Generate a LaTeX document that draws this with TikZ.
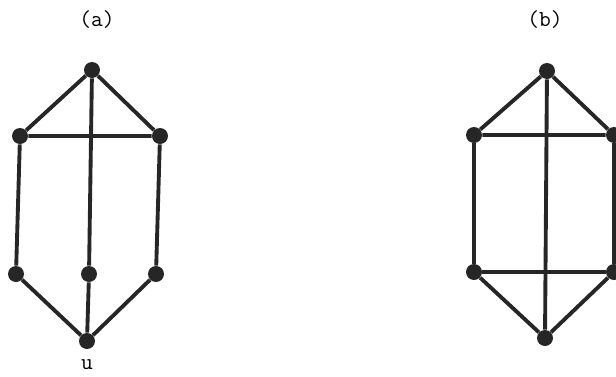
\documentclass[tikz,border=0pt]{standalone}
\begin{document}
\begin{tikzpicture}[x=0.02cm, y=-0.02cm,
    vertex/.style={circle, fill=black!85, inner sep=0pt, minimum size=0.32cm},
    edge/.style={line width=2.2pt, black!85},
    lbl/.style={font=\fontsize{13}{15}\selectfont\ttfamily}]
  \useasboundingbox (0,0) rectangle (616,376);
  \clip (0,0) rectangle (616,376);

  % graph (a)
  \node[lbl] (capA) at (97,20) {(a)};
  \node[vertex] (aT) at (92,70) {};
  \node[vertex] (aL) at (20,136) {};
  \node[vertex] (aR) at (160,136) {};
  \node[vertex] (aBL) at (16,274) {};
  \node[vertex] (aBM) at (89,274) {};
  \node[vertex] (aBR) at (156,274) {};
  \node[vertex] (aU) at (87,341) {};
  \node[lbl] (labU) at (87,365) {u};

  \draw[edge] (aT) -- (aL) -- (aR) -- (aT) -- (aBM) -- (aU);
  \draw[edge] (aL) -- (aBL) -- (aU) -- (aBR) -- (aR);

  % graph (b)
  \node[lbl] (capB) at (545,20) {(b)};
  \node[vertex] (bT) at (547,71) {};
  \node[vertex] (bL) at (474,135) {};
  \node[vertex] (bR) at (614,135) {};
  \node[vertex] (bBL) at (474,272) {};
  \node[vertex] (bBR) at (614,272) {};
  \node[vertex] (bB) at (545,338) {};

  \draw[edge] (bT) -- (bL) -- (bR) -- (bT) -- (bB);
  \draw[edge] (bL) -- (bBL) -- (bBR) -- (bR);
  \draw[edge] (bBL) -- (bB) -- (bBR);
\end{tikzpicture}
\end{document}
